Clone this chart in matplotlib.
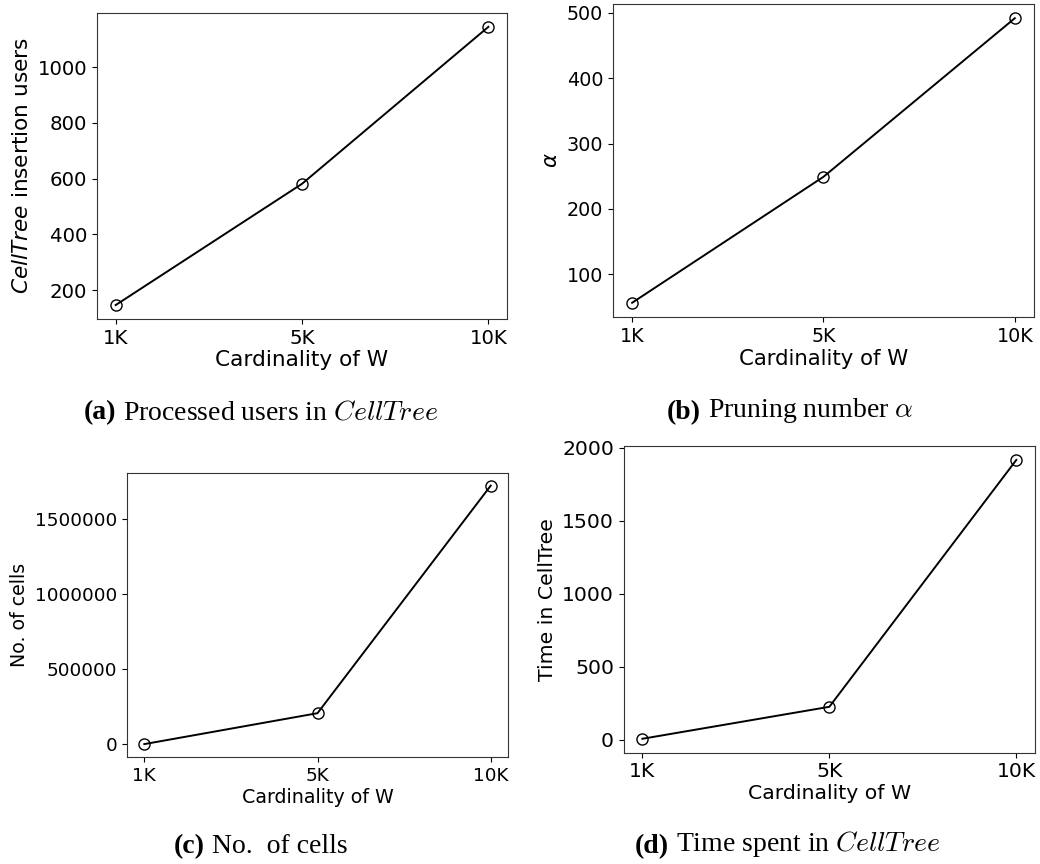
import matplotlib
matplotlib.use('Agg')
import matplotlib.pyplot as plt

# ── Data ──────────────────────────────────────────────────────────────────────
card_labels = ['1K', '5K', '10K']
insertion_users = [146, 581, 1144]
pruning_alpha = [56, 249, 492]
num_cells = [2000, 208000, 1724000]
time_celltree = [5, 224, 1915]

plt.rcParams.update({
    'font.family': 'DejaVu Sans',
    'mathtext.fontset': 'dejavusans',
})

FIG_W, FIG_H = 1040, 864
fig = plt.figure(figsize=(FIG_W / 100, FIG_H / 100), dpi=100)

# axes boxes in figure fraction: left, bottom, width, height
boxes = {
    'a': [0.0933, 0.6308, 0.3942, 0.3542],
    'b': [0.5894, 0.6331, 0.4048, 0.3623],
    'c': [0.1221, 0.1238, 0.3664, 0.3291],
    'd': [0.5997, 0.1288, 0.3955, 0.3550],
}

# key, values, y label, tick font size, label font size
panels = [
    ('a', insertion_users, r'$\mathit{CellTree}$ insertion users', 14.2, 15.6),
    ('b', pruning_alpha, r'$\alpha$', 13.8, 15.3),
    ('c', num_cells, 'No. of cells', 13.2, 13.7),
    ('d', time_celltree, 'Time in CellTree', 14.7, 14.7),
]

for key, vals, ylab, tsize, lsize in panels:
    ax = fig.add_axes(boxes[key])
    x = range(len(card_labels))
    ax.plot(x, vals, color='black', linewidth=1.4, marker='o', markersize=8,
            markerfacecolor='none', markeredgecolor='black', markeredgewidth=1.0)
    ax.set_xticks(list(x))
    ax.set_xticklabels(card_labels)
    ax.set_xlabel('Cardinality of W', fontsize=lsize, labelpad=2)
    ax.set_ylabel(ylab, fontsize=lsize)
    ax.tick_params(labelsize=tsize)
    ax.ticklabel_format(axis='y', style='plain', useOffset=False)
    for sp in ax.spines.values():
        sp.set_color('#333333')

# ── Captions (bold tag + serif body, centred under each panel) ───────────────
captions = [
    (261, 419, '(a)', r'Processed users in $CellTree$'),
    (790, 419, '(b)', r'Pruning number $\alpha$'),
    (261, 853, '(c)', 'No.  of cells'),
    (788, 853, '(d)', r'Time spent in $CellTree$'),
]
parts = []
for cx, cy, tag, body in captions:
    t1 = fig.text(cx / FIG_W, 1 - cy / FIG_H, tag, fontsize=20,
                  fontweight='bold', family='Liberation Serif',
                  va='baseline', ha='left')
    t2 = fig.add_artist(plt.Annotation(
        body, xy=(1, 0), xycoords=t1, xytext=(5, 0),
        textcoords='offset points', ha='left', va='bottom',
        fontsize=20, family='Liberation Serif', math_fontfamily='cm'))
    parts.append((cx, t1, t2))

fig.canvas.draw()
renderer = fig.canvas.get_renderer()
for cx, t1, t2 in parts:
    b1 = t1.get_window_extent(renderer)
    b2 = t2.get_window_extent(renderer)
    width = b2.x1 - b1.x0
    t1.set_x((cx - width / 2) / FIG_W)

fig.savefig('out.png', dpi=100)
